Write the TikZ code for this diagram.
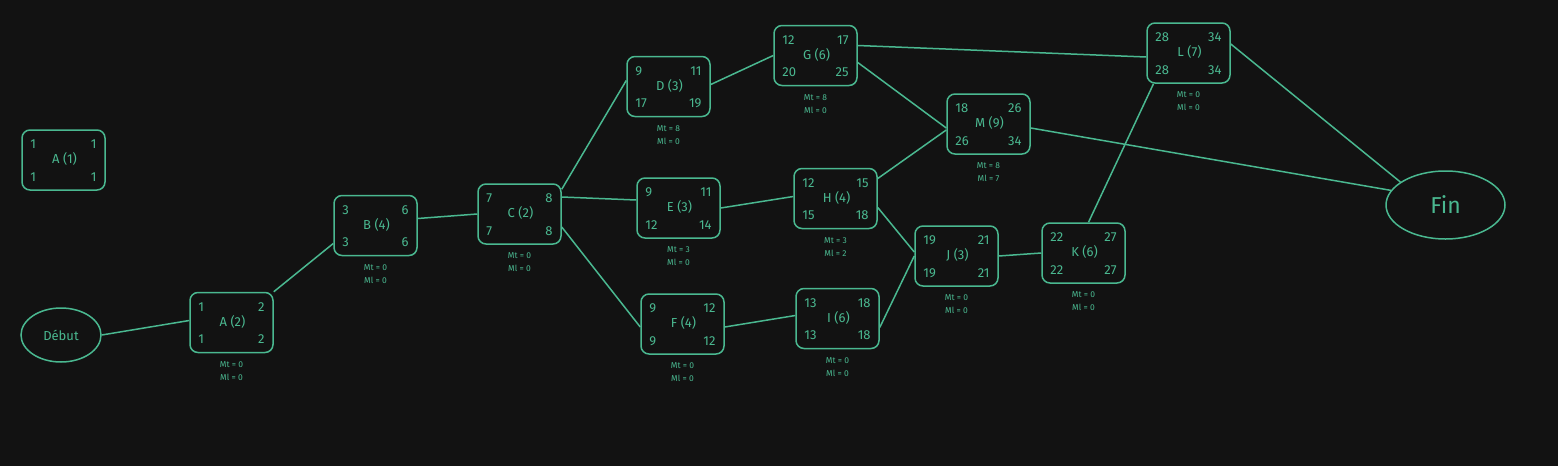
\documentclass[tikz,border=0pt]{standalone}
\usepackage{fontspec}
\setmainfont{Fira Sans}
\usetikzlibrary{shapes.geometric}
\definecolor{bg}{HTML}{121212}
\definecolor{gr}{HTML}{4AB890}
\tikzset{
  actbox/.style={draw=gr, line width=1.5pt, rounded corners=8pt, minimum width=83pt, minimum height=60pt, inner sep=0pt},
  oval/.style={draw=gr, line width=1.5pt, ellipse, inner sep=0pt, text=gr},
  num/.style={text=gr, font=\fontsize{13}{13}\selectfont, inner sep=0pt},
  lbl/.style={text=gr, font=\fontsize{13}{13}\selectfont, inner sep=0pt},
  marg/.style={text=gr, font=\fontsize{8.5}{8.5}\selectfont, inner sep=0pt},
  link/.style={draw=gr, line width=1.5pt}
}
\newcommand\actbox[8]{%
  \node[actbox] (#1) at (#2,#3) {};
  \node[lbl] (#1-l) at ([xshift=1pt,yshift=1pt]#1.center) {#4};
  \node[num, anchor=west] (#1-tl) at ([xshift=9pt,yshift=-15pt]#1.north west) {#5};
  \node[num, anchor=east] (#1-tr) at ([xshift=-9pt,yshift=-15pt]#1.north east) {#6};
  \node[num, anchor=west] (#1-bl) at ([xshift=9pt,yshift=14pt]#1.south west) {#7};
  \node[num, anchor=east] (#1-br) at ([xshift=-9pt,yshift=14pt]#1.south east) {#8};
}
\newcommand\margins[3]{%
  \node[marg] (#1-mt) at ([yshift=-11pt]#1.south) {Mt = #2};
  \node[marg] (#1-ml) at ([yshift=-24pt]#1.south) {Ml = #3};
}
\begin{document}
\begin{tikzpicture}[x=1pt,y=-1pt]
\fill[bg] (0,0) rectangle (1558,466);
\useasboundingbox (0,0) rectangle (1558,466);

\actbox{A1}{63.5}{160}{A (1)}{1}{1}{1}{1}
\node[oval, minimum width=80pt, minimum height=54pt, font=\fontsize{13}{13}\selectfont] (debut) at (61,335) {Début};
\actbox{A2}{231.5}{322.5}{A (2)}{1}{2}{1}{2}
\margins{A2}{0}{0}
\actbox{B}{375.5}{225.5}{B (4)}{3}{6}{3}{6}
\margins{B}{0}{0}
\actbox{C}{519.5}{214}{C (2)}{7}{8}{7}{8}
\margins{C}{0}{0}
\actbox{D}{668.5}{86.5}{D (3)}{9}{11}{17}{19}
\margins{D}{8}{0}
\actbox{G}{815.5}{55.5}{G (6)}{12}{17}{20}{25}
\margins{G}{8}{0}
\actbox{E}{678.5}{208}{E (3)}{9}{11}{12}{14}
\margins{E}{3}{0}
\actbox{H}{835.5}{198.5}{H (4)}{12}{15}{15}{18}
\margins{H}{3}{2}
\actbox{F}{682.5}{324}{F (4)}{9}{12}{9}{12}
\margins{F}{0}{0}
\actbox{I}{837.5}{318.5}{I (6)}{13}{18}{13}{18}
\margins{I}{0}{0}
\actbox{M}{988.5}{124}{M (9)}{18}{26}{26}{34}
\margins{M}{8}{7}
\actbox{J}{956.5}{256}{J (3)}{19}{21}{19}{21}
\margins{J}{0}{0}
\actbox{K}{1083.5}{253}{K (6)}{22}{27}{22}{27}
\margins{K}{0}{0}
\actbox{L}{1188.5}{53}{L (7)}{28}{34}{28}{34}
\margins{L}{0}{0}
\node[oval, minimum width=119pt, minimum height=68pt, font=\fontsize{23}{23}\selectfont] (fin) at (1445.5,205) {Fin};

\draw[link] (debut.east) -- ([yshift=2pt]A2.west);
\draw[link] (A2.north east) -- ([yshift=-18pt]B.west);
\draw[link] ([yshift=7pt]B.east) -- (C.west);
\draw[link] ([yshift=-6pt]C.north east) -- ([yshift=6pt]D.west);
\draw[link] ([yshift=17pt]C.east) -- ([yshift=8pt]E.west);
\draw[link] ([yshift=-13pt]C.east) -- ([yshift=-3pt]F.west);
\draw[link] ([yshift=2pt]D.east) -- (G.west);
\draw[link] ([yshift=10pt]G.east) -- ([yshift=-4pt]L.west);
\draw[link] ([yshift=-7pt]G.east) -- ([yshift=-4pt]M.west);
\draw[link] (E.east) -- ([yshift=2pt]H.west);
\draw[link] ([yshift=-3pt]F.east) -- ([yshift=3pt]I.west);
\draw[link] ([yshift=20pt]H.east) -- ([yshift=-6pt]M.west);
\draw[link] ([yshift=-9pt]H.east) -- ([yshift=4pt]J.west);
\draw[link] ([yshift=-9pt]I.east) -- (J.west);
\draw[link] (J.east) -- (K.west);
\draw[link] ([xshift=5pt]K.north) -- ([xshift=-35pt]L.south);
\draw[link] ([yshift=-4pt]M.east) -- (fin.165);
\draw[link] ([yshift=9pt]L.east) -- (fin.153);
\end{tikzpicture}
\end{document}
